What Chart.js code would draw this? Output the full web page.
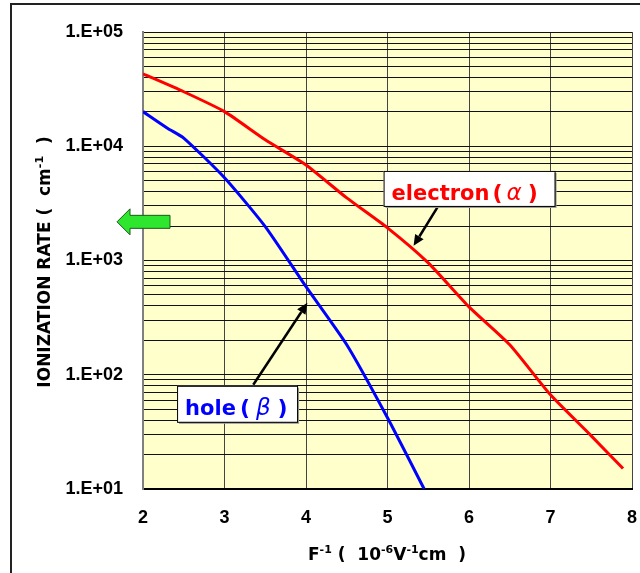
<!DOCTYPE html>
<html>
<head>
<meta charset="utf-8">
<script src="https://cdn.jsdelivr.net/npm/chart.js@4/dist/chart.umd.min.js"></script>
<style>
  html, body { margin: 0; padding: 0; background: #fff; }
</style>
</head>
<body>
<canvas id="ionization" width="640" height="573"></canvas>
<script>
// values
const electronX = [2, 2.5, 3, 3.5, 4, 4.5, 5, 5.5, 6, 6.5, 7, 7.5, 7.89];
const electronY = [43000, 30000, 20100, 11400, 6860, 3530, 1930, 953, 393, 183, 66.7, 29.2, 15.1];
const holeX = [2, 2.3, 2.5, 3, 3.5, 4, 4.5, 5, 5.45];
const holeY = [20100, 14400, 11800, 5300, 1980, 590, 183, 42, 10];

const xTickValues = [2, 3, 4, 5, 6, 7, 8];
const yTickValues = [10, 100, 1000, 10000, 100000];
const yTickLabels = ['1.E+01', '1.E+02', '1.E+03', '1.E+04', '1.E+05'];

const tickFont = { family: "'Liberation Sans', Arial, sans-serif", size: 18, weight: 'bold' };

function toPoints(xs, ys) {
  return xs.map((x, i) => ({ x: x, y: ys[i] }));
}

// draw a run of text pieces, each with own font / raise
function drawRun(ctx, pieces, x, y, align) {
  let total = 0;
  pieces.forEach(p => {
    ctx.font = p.font;
    p.w = ctx.measureText(p.t).width + (p.gap || 0);
    total += p.w;
  });
  let cx = align === 'center' ? x - total / 2 : x;
  pieces.forEach(p => {
    ctx.font = p.font;
    ctx.fillStyle = p.color || '#000';
    ctx.fillText(p.t, cx, y - (p.up || 0));
    cx += p.w;
  });
}

function arrow(ctx, x1, y1, x2, y2) {
  const ang = Math.atan2(y2 - y1, x2 - x1);
  const head = 11;
  const bx = x2 - head * Math.cos(ang), by = y2 - head * Math.sin(ang);
  ctx.strokeStyle = '#000';
  ctx.fillStyle = '#000';
  ctx.lineWidth = 2.5;
  ctx.beginPath();
  ctx.moveTo(x1, y1);
  ctx.lineTo(bx, by);
  ctx.stroke();
  const px = -Math.sin(ang) * 5, py = Math.cos(ang) * 5;
  ctx.beginPath();
  ctx.moveTo(x2, y2);
  ctx.lineTo(bx + px, by + py);
  ctx.lineTo(bx - px, by - py);
  ctx.closePath();
  ctx.fill();
}

function labelBox(ctx, x, y, w, h) {
  ctx.fillStyle = '#999';
  ctx.fillRect(x + 2, y + 2, w, h);
  ctx.fillStyle = '#fff';
  ctx.fillRect(x, y, w, h);
  ctx.strokeStyle = '#000';
  ctx.lineWidth = 1;
  ctx.strokeRect(x + 0.5, y + 0.5, w, h);
}

const decoPlugin = {
  id: 'deco',
  beforeDraw(chart) {
    const ctx = chart.ctx, a = chart.chartArea;
    ctx.save();
    ctx.fillStyle = '#fff';
    ctx.fillRect(0, 0, chart.width, chart.height);
    ctx.strokeStyle = '#222';
    ctx.lineWidth = 2;
    ctx.beginPath();
    ctx.moveTo(11, chart.height);
    ctx.lineTo(11, 4);
    ctx.lineTo(chart.width, 4);
    ctx.stroke();
    ctx.fillStyle = '#FFFFCC';
    ctx.fillRect(a.left, a.top, a.right - a.left, a.bottom - a.top);
    ctx.restore();
  },
  afterDraw(chart) {
    const ctx = chart.ctx, a = chart.chartArea;
    const xs = chart.scales.x, ys = chart.scales.y;
    ctx.save();
    ctx.textBaseline = 'alphabetic';
    ctx.textAlign = 'left';

    // axis titles
    const tf = "bold 17px 'DejaVu Sans', sans-serif";
    const sf = "bold 11px 'DejaVu Sans', sans-serif";
    drawRun(ctx, [
      { t: 'F', font: tf },
      { t: '-1', font: sf, up: 7 },
      { t: ' (  10', font: tf },
      { t: '-6', font: sf, up: 7 },
      { t: 'V', font: tf },
      { t: '-1', font: sf, up: 7 },
      { t: 'cm  )', font: tf }
    ], 387, 560, 'center');

    ctx.save();
    ctx.translate(50, 262);
    ctx.rotate(-Math.PI / 2);
    drawRun(ctx, [
      { t: 'IONIZATION RATE (  cm', font: tf },
      { t: '-1', font: sf, up: 7 },
      { t: '  )', font: tf }
    ], 0, 0, 'center');
    ctx.restore();

    // green arrow at left edge
    const gy = ys.getPixelForValue(2180), gx = a.left;
    ctx.beginPath();
    ctx.moveTo(gx - 26, gy);
    ctx.lineTo(gx - 13, gy - 13);
    ctx.lineTo(gx - 13, gy - 6.5);
    ctx.lineTo(gx + 27, gy - 6.5);
    ctx.lineTo(gx + 27, gy + 6.5);
    ctx.lineTo(gx - 13, gy + 6.5);
    ctx.lineTo(gx - 13, gy + 13);
    ctx.closePath();
    ctx.fillStyle = '#2EE62E';
    ctx.fill();
    ctx.strokeStyle = '#1A5A1A';
    ctx.lineWidth = 1;
    ctx.stroke();

    // electron label
    arrow(ctx, xs.getPixelForValue(5.616), ys.getPixelForValue(2945),
               xs.getPixelForValue(5.32), ys.getPixelForValue(1343));
    let bx = xs.getPixelForValue(4.952), by = ys.getPixelForValue(6080);
    labelBox(ctx, bx, by, 171, 35);
    const lf = "bold 21px 'DejaVu Sans', sans-serif";
    const pf = "bold 22px 'DejaVu Sans', sans-serif";
    const gf = "italic 23px 'DejaVu Sans', sans-serif";
    drawRun(ctx, [
      { t: 'electron', font: lf, color: '#FF0000', gap: 3 },
      { t: '(', font: pf, color: '#FF0000', gap: 4 },
      { t: 'α', font: gf, color: '#FF0000', gap: 6 },
      { t: ')', font: pf, color: '#FF0000' }
    ], bx + 8, by + 29, 'left');

    // hole label
    arrow(ctx, xs.getPixelForValue(3.353), ys.getPixelForValue(81.7),
               xs.getPixelForValue(4.017), ys.getPixelForValue(426));
    bx = xs.getPixelForValue(2.418); by = ys.getPixelForValue(80);
    labelBox(ctx, bx, by, 120, 36);
    drawRun(ctx, [
      { t: 'hole', font: lf, color: '#0000FF', gap: 4 },
      { t: '(', font: pf, color: '#0000FF', gap: 6 },
      { t: 'β', font: gf, color: '#0000FF', gap: 7 },
      { t: ')', font: pf, color: '#0000FF' }
    ], bx + 8, by + 29, 'left');

    ctx.restore();
  }
};

let myChart = null;
const ctx = document.getElementById('ionization');

myChart = new Chart(ctx, {
  type: 'scatter',
  data: {
    datasets: [{
      label: 'electron',
      data: toPoints(electronX, electronY),
      showLine: true,
      borderColor: '#FF0000',
      borderWidth: 3,
      pointRadius: 0,
      tension: 0.2,
    }, {
      label: 'hole',
      data: toPoints(holeX, holeY),
      showLine: true,
      borderColor: '#0000FF',
      borderWidth: 3,
      pointRadius: 0,
      tension: 0.2,
    }],
  },
  options: {
    responsive: false,
    animation: false,
    layout: {
      padding: { top: 32, right: 8, bottom: 0, left: 0 },
    },
    plugins: {
      legend: { display: false },
      tooltip: { enabled: false },
    },
    scales: {
      x: {
        type: 'linear',
        min: 2,
        max: 8,
        afterBuildTicks: (s) => { s.ticks = xTickValues.map(v => ({ value: v })); },
        afterFit: (s) => { s.height = 84; s.paddingLeft = 0; s.paddingRight = 0; },
        grid: { color: '#444', lineWidth: 1, drawTicks: false },
        border: { color: '#000', width: 2 },
        ticks: {
          autoSkip: false,
          maxRotation: 0,
          padding: 18,
          color: '#000',
          font: tickFont,
        },
      },
      y: {
        type: 'logarithmic',
        min: 10,
        max: 100000,
        afterBuildTicks: (s) => {
          const t = [];
          for (let e = 1; e < 5; e++) {
            for (let m = 1; m < 10; m++) t.push({ value: m * Math.pow(10, e) });
          }
          t.push({ value: 100000 });
          s.ticks = t;
        },
        afterFit: (s) => { s.width = 143; s.paddingTop = 0; s.paddingBottom = 0; },
        grid: { color: '#111', lineWidth: 1, drawTicks: false },
        border: { color: '#808080', width: 2 },
        ticks: {
          autoSkip: false,
          padding: 20,
          color: '#000',
          font: tickFont,
          callback: (v) => {
            const i = yTickValues.indexOf(v);
            return i >= 0 ? yTickLabels[i] : '';
          },
        },
      },
    },
  },
  plugins: [decoPlugin],
});
</script>
</body>
</html>
